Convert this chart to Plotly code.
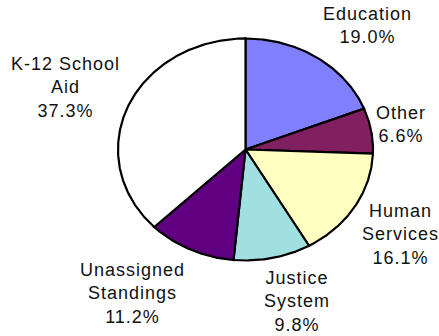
import numpy as np
import plotly.graph_objects as go

# Budget shares, clockwise from 12 o'clock
categories = ["Education", "Other", "Human Services", "Justice System",
              "Unassigned Standings", "K-12 School Aid"]
shares = [19.0, 6.6, 16.1, 9.8, 11.2, 37.3]
label_lines = [["Education"], ["Other"], ["Human", "Services"],
               ["Justice", "System"], ["Unassigned", "Standings"],
               ["K-12 School", "Aid"]]
colors = ["#8080FF", "#802060", "#FFFFC0", "#A0E0E0", "#600080", "#FFFFFF"]

# label block centres in page pixels
label_pos = [(367, 26), (401, 124), (400, 234), (297, 301), (132, 293), (65, 88)]

W, H = 439, 336
# ellipse placement in page pixels: centre and radii
CX, CY, RX, RY = 245.5, 149.5, 127.5, 111.0

# axes map the unit circle onto the ellipse
x0 = -CX / RX
x1 = (W - CX) / RX
y1 = CY / RY
y0 = -(H - CY) / RY

fig = go.Figure()
total = sum(shares)
start = 0.0
for name, val, col in zip(categories, shares, colors):
    end = start + val / total * 360.0
    th = np.radians(np.linspace(start, end, max(int((end - start) * 2), 4)))
    xs = np.concatenate([[0], np.sin(th), [0]])
    ys = np.concatenate([[0], np.cos(th), [0]])
    fig.add_trace(go.Scatter(
        x=xs, y=ys, mode="lines", fill="toself", fillcolor=col,
        line=dict(color="black", width=2.2), name=name,
        hoverinfo="skip", showlegend=False))
    start = end

SP = "<span style='letter-spacing:1px'>{}</span>"
for lines, val, (px, py) in zip(label_lines, shares, label_pos):
    parts = [SP.format(t) for t in lines + [f"{val:.1f}%"]]
    fig.add_annotation(
        x=px / W, y=1 - py / H, xref="paper", yref="paper",
        text="<br>".join(parts), showarrow=False, align="center",
        xanchor="center", yanchor="middle",
        font=dict(family="Liberation Sans, Arial, sans-serif", size=18, color="#111111"))

fig.update_layout(
    width=W, height=H, margin=dict(l=0, r=0, t=0, b=0),
    paper_bgcolor="white", plot_bgcolor="white",
    xaxis=dict(range=[x0, x1], visible=False, fixedrange=True),
    yaxis=dict(range=[y0, y1], visible=False, fixedrange=True),
)

fig.write_html("out.html")
